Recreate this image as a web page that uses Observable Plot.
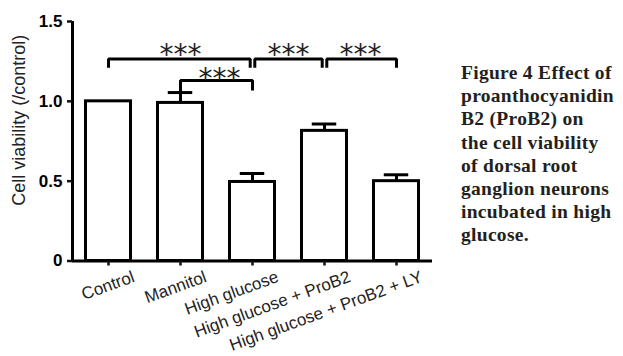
<!DOCTYPE html>
<html><head><meta charset="utf-8">
<script src="https://cdn.jsdelivr.net/npm/d3@7"></script>
<script src="https://cdn.jsdelivr.net/npm/@observablehq/plot@0.6"></script>
<style>
body{margin:0;background:#fff;}
#wrap{position:relative;width:623px;height:356px;overflow:hidden;background:#fff;}
#chart{position:absolute;left:0;top:0;}
#caption{position:absolute;left:461px;top:61px;font-family:"Liberation Serif",serif;font-weight:bold;font-size:19.5px;line-height:23.2px;white-space:nowrap;color:#231f20;letter-spacing:0.3px;}
#chart svg [aria-label="y-axis tick label"]{font-weight:bold;}
</style></head><body>
<div id="wrap"><div id="chart"></div><div id="caption"></div></div>
<script>
// ---- data ----
const groups = ["Control", "Mannitol", "High glucose", "High glucose + ProB2", "High glucose + ProB2 + LY"];
const means  = [1.00, 0.99, 0.495, 0.815, 0.500];
const sems   = [0.00, 0.065, 0.053, 0.043, 0.040];
const yTicks = [0, 0.5, 1.0, 1.5];
const yTickLabels = ["0", "0.5", "1.0", "1.5"];
const yLabel = "Cell viability (/control)";
// significance comparisons (indices into groups)
const cmpFrom   = [0, 2, 3, 1];
const cmpTo     = [2, 3, 4, 2];
const cmpLevel  = [1.265, 1.265, 1.265, 1.13];
const cmpLegEndFrom = [1.21, 1.21, 1.21, 1.055];
const cmpLegEndTo   = [1.21, 1.21, 1.21, 1.068];
const cmpLabels = ["***", "***", "***", "***"];
const captionLines = ["Figure 4 Effect of", "proanthocyanidin", "B2 (ProB2) on", "the cell viability",
  "of dorsal root", "ganglion neurons", "incubated in high", "glucose."];

// ---- build tables ----
const barHalf = 0.3125;   // half bar width in category units
const capHalf = 0.17;
const joinGap = 0.032;    // small gap where two brackets meet
const bars = groups.map((g, i) => ({i, g, mean: means[i], sem: sems[i]}));
const errs = bars.filter(d => d.sem > 0);
const topIdx = [0, 1, 2];
const shared = v => topIdx.filter(k => cmpFrom[k] === v || cmpTo[k] === v).length > 1;
const brPts = [];
cmpFrom.forEach((f, k) => {
  const t = cmpTo[k];
  const lvl = cmpLevel[k];
  const isTop = topIdx.includes(k);
  const fx = f + (isTop && shared(f) ? joinGap : 0);
  const tx = t - (isTop && shared(t) ? joinGap : 0);
  brPts.push({k, x: fx, y: cmpLegEndFrom[k]}, {k, x: fx, y: lvl}, {k, x: tx, y: lvl}, {k, x: tx, y: cmpLegEndTo[k]});
});
const brLabels = cmpFrom.map((f, k) => ({x: (f + cmpTo[k]) / 2, y: cmpLevel[k], text: cmpLabels[k], k}));

const chart = Plot.plot({
  width: 460,
  height: 356,
  marginLeft: 72,
  marginRight: 28,
  marginTop: 21,
  marginBottom: 95.5,
  style: {fontFamily: "'Liberation Sans', Arial, sans-serif", background: "white", color: "#111"},
  x: {type: "linear", domain: [-0.5, groups.length - 0.5]},
  y: {domain: [0, 1.5]},
  marks: [
    Plot.rectY(bars, {x1: d => d.i - barHalf, x2: d => d.i + barHalf, y: "mean", fill: "white", stroke: "black", strokeWidth: 3}),
    Plot.ruleX(errs, {x: "i", y1: "mean", y2: d => d.mean + d.sem, stroke: "black", strokeWidth: 3}),
    Plot.ruleY(errs, {x1: d => d.i - capHalf, x2: d => d.i + capHalf, y: d => d.mean + d.sem, stroke: "black", strokeWidth: 3}),
    Plot.line(brPts, {x: "x", y: "y", z: "k", stroke: "black", strokeWidth: 3, strokeLinejoin: "miter", strokeLinecap: "butt", curve: "linear"}),
    Plot.text(brLabels.filter(d => d.k < 3), {x: "x", y: "y", text: "text", dy: -4, fontSize: 28, fontFamily: "DejaVu Sans", fill: "#222", textAnchor: "middle"}),
    Plot.text(brLabels.filter(d => d.k >= 3), {x: "x", y: "y", text: "text", dy: -2, dx: 3, fontSize: 28, fontFamily: "DejaVu Sans", fill: "#222", textAnchor: "middle"}),
    Plot.ruleY([0], {stroke: "black", strokeWidth: 3}),
    Plot.ruleX([-0.5], {stroke: "black", strokeWidth: 3}),
    Plot.axisY({ticks: yTicks, tickFormat: d => yTickLabels[yTicks.indexOf(d)], tickSize: 5, tickPadding: 5,
      fontSize: 17, fontWeight: "bold", strokeWidth: 2.5, label: null, fill: "black"}),
    Plot.axisX({ticks: groups.map((g, i) => i), tickFormat: () => "", tickSize: 5, strokeWidth: 2.5, label: null}),
    Plot.text(bars, {x: "i", text: "g", frameAnchor: "bottom", textAnchor: "end", lineAnchor: "top", rotate: -20,
      dx: 23, dy: 9, fontSize: 17, fill: "#222"}),
    Plot.text([yLabel], {frameAnchor: "left", textAnchor: "middle", rotate: -90, dx: -53, dy: -21, fontSize: 18, fill: "#222"})
  ]
});
document.getElementById("chart").appendChild(chart);
document.getElementById("caption").innerHTML = captionLines.join("<br>");
</script>
</body></html>
